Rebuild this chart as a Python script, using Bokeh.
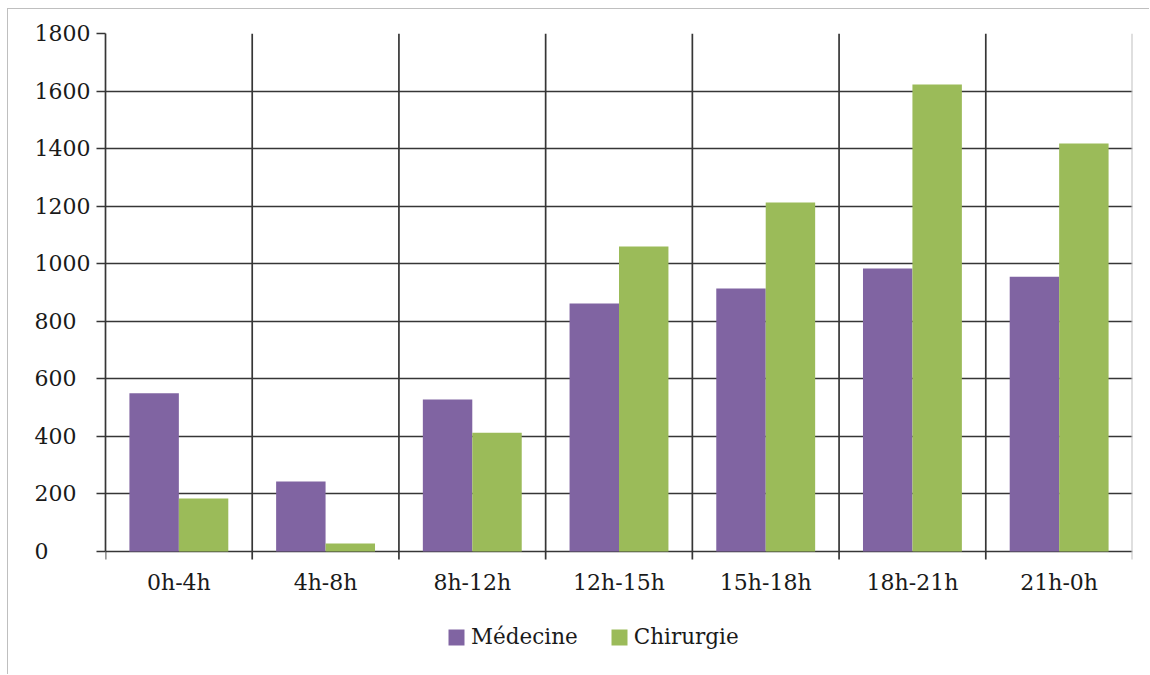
from bokeh.plotting import figure
from bokeh.models import Range1d, FixedTicker, Legend, LegendItem, ColumnDataSource
from bokeh.core.properties import value
from bokeh.embed import file_html
from bokeh.resources import INLINE

categories = ["0h-4h", "4h-8h", "8h-12h", "12h-15h", "15h-18h", "18h-21h", "21h-0h"]
medecine = [550, 243, 528, 862, 914, 983, 955]
chirurgie = [184, 28, 413, 1060, 1213, 1623, 1418]
y_ticks = [0, 200, 400, 600, 800, 1000, 1200, 1400, 1600, 1800]

FONT = "DejaVu Serif"
PURPLE = "#8064A2"
GREEN = "#9BBB59"
GRID = "#363636"
EDGE = "#c0c0c0"
TXT = "#1a1a1a"

n = len(categories)
bar_w = 0.337
centers = [i + 0.5 for i in range(n)]
boundaries = list(range(0, n + 1))
YMAX = 1800
YMIN = -413.5          # room below the axis (inside the frame) for labels + legend
PX = 637 / (YMAX - YMIN)  # pixels per data unit
tick_len = 8 / PX

p = figure(width=1142, height=666, output_backend="svg", toolbar_location=None,
           x_range=Range1d(0, n), y_range=Range1d(YMIN, YMAX),
           x_axis_location=None,
           min_border_left=97, min_border_right=18, min_border_top=24, min_border_bottom=5)
p.styles = {"margin-left": "7px", "margin-top": "8px",
            "border-left": "1px solid #bfbfbf", "border-top": "1px solid #bfbfbf"}
p.outline_line_color = None
p.background_fill_color = "white"
p.border_fill_color = "white"

# horizontal grid
p.ygrid.ticker = FixedTicker(ticks=y_ticks)
p.ygrid.grid_line_color = GRID
p.ygrid.grid_line_width = 1.7
p.xgrid.visible = False

# vertical category separators (with their tick below the baseline)
inner = boundaries[1:-1]
p.segment(x0=inner, x1=inner, y0=[-tick_len] * len(inner), y1=[YMAX] * len(inner),
          line_color=GRID, line_width=1.7, level="underlay")
p.segment(x0=[boundaries[0]], x1=[boundaries[0]], y0=[-tick_len], y1=[0],
          line_color=GRID, line_width=1.7)
p.segment(x0=[boundaries[-1]], x1=[boundaries[-1]], y0=[-tick_len], y1=[YMAX],
          line_color=EDGE, line_width=2)

src = ColumnDataSource(dict(
    xm=[c - bar_w / 2 for c in centers], xc=[c + bar_w / 2 for c in centers],
    med=medecine, chi=chirurgie))
r1 = p.vbar(x="xm", top="med", width=bar_w, source=src, fill_color=PURPLE, line_color=None)
r2 = p.vbar(x="xc", top="chi", width=bar_w, source=src, fill_color=GREEN, line_color=None)

# category labels
p.text(x=centers, y=[-31 / PX] * n, text=categories, text_align="center", text_baseline="middle",
       text_font=value(FONT), text_font_size="22px", text_color=TXT)

# y axis (labels left-aligned as in the reference: pad shorter numbers with figure spaces)
ya = p.yaxis[0]
ya.bounds = (0, YMAX)
ya.ticker = FixedTicker(ticks=y_ticks)
ya.axis_line_color = GRID
ya.axis_line_width = 1.7
ya.major_tick_line_color = GRID
ya.major_tick_line_width = 1.7
ya.major_tick_out = 9
ya.major_tick_in = 0
ya.minor_tick_line_color = None
ya.major_label_text_font = FONT
ya.major_label_text_font_size = "22px"
ya.major_label_text_color = TXT
ya.major_label_standoff = 6
ya.major_label_overrides = {t: str(t) + "\u2007" * (4 - len(str(t))) for t in y_ticks}

legend = Legend(items=[LegendItem(label="Médecine", renderers=[r1]),
                       LegendItem(label="Chirurgie", renderers=[r2])],
                orientation="horizontal", location=(341, 21),
                label_text_font=FONT, label_text_font_size="21.5px", label_text_color=TXT,
                glyph_width=20, glyph_height=20, label_standoff=5, spacing=31,
                padding=0, margin=0, border_line_color=None, background_fill_alpha=0)
p.add_layout(legend, "center")

open("out.html", "w").write(file_html(p, INLINE))
